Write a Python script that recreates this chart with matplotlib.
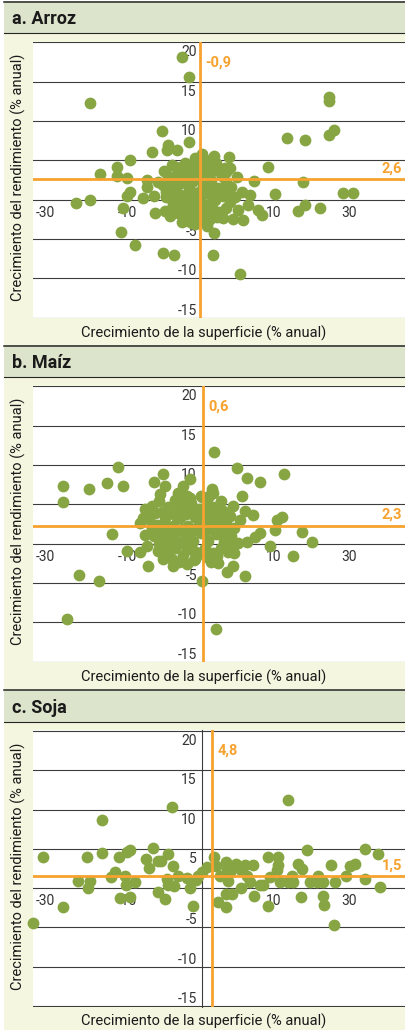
"""Crecimiento del rendimiento vs crecimiento de la superficie: arroz, maíz, soja."""

import numpy as np

import matplotlib

matplotlib.use("Agg")
import matplotlib.pyplot as plt  # noqa: E402
from matplotlib.lines import Line2D  # noqa: E402
from matplotlib.patches import Rectangle  # noqa: E402
from matplotlib.transforms import ScaledTranslation  # noqa: E402

# ---- data ----------------------------------------------------------------
TITLES = ["a. Arroz", "b. Maíz", "c. Soja"]
V_VALUES = [-0.9, 0.6, 4.8]          # mean area growth (vertical line)
H_VALUES = [2.6, 2.3, 1.5]           # mean yield growth (horizontal line)
V_LABELS = ["-0,9", "0,6", "4,8"]
H_LABELS = ["2,6", "2,3", "1,5"]

YTICKS = [-15, -10, -5, 0, 5, 10, 15, 20]
YTICK_LABELS = ["-15", "-10", "-5", "", "5", "10", "15", "20"]
# the original's x labels are not evenly spaced; keep them where they sit
XTICK_POS = [-70.2, -33.4, 32.4, 66.4]
XTICK_LABELS = ["-30", "-10", "10", "30"]

RICE_X = [
    -9.0, -5.5, -50.2, 57.3, 57.3, 59.5, 57.3, 38.2, 46.6, -18.0, -5.5, -15.3,
    -11.2, -15.4, -22.3, 0.0, 5.5, 12.4, -32.1, -37.9, -45.7, -37.9, -33.7,
    -24.7, -19.8, 30.0, 45.4, 63.7, 67.9, 33.0, -56.5, -50.2, -32.2, -33.7,
    -24.7, -21.4, -26.5, -35.5, -21.0, -16.5, -14.2, -9.0, -3.4, 2.2, 5.5,
    -36.3, -30.0, -17.2, -12.4, 4.9, 17.2, 13.9, 18.7, 16.5, 21.0, 25.2, 27.3,
    21.7, 18.0, 23.7, 15.9, 10.5, 12.7, 3.7, 43.5, 46.6, 53.2,
    -16.8, -13.5, -10.2, -7.4, -4.1, -1.2, 2.6, 6.3, 9.1,
    -17.5, -14.6, -11.8, -8.3, -5.6, -2.4, 0.8, 4.1, 7.2, 10.8, 13.4,
    -15.9, -12.9, -9.6, -6.9, -3.8, -0.6, 2.9, 5.8, 9.4, 12.6, 14.8,
    -14.1, -10.8, -7.5, -4.6, -1.7, 1.5, 4.7, 7.9, 10.9,
    -6.2, -2.8, 0.6, 3.6, 7.0,
    -11.5, -3.2, 1.8, -8.8, 4.9, -6.0, -1.0, 3.2, -4.8, 0.2, 6.6, -9.0, -12.3,
    -15.2, -12.0, -8.7, -5.3, -2.6, 0.5, 3.8, 7.7, 11.0,
    -16.2, -13.2, -10.4, -7.0, -4.2, -1.2, 1.9, 5.2, 8.5, 11.6,
    -12.0, -8.9, -5.9, -3.0, 0.1, 3.2, 6.2, 9.6, -8.0, -1.0, 2.3, -4.3,
]
RICE_Y = [
    18.2, 15.6, 12.3, 13.0, 12.6, 8.9, 8.2, 7.8, 7.6, 8.7, 7.3, 7.0,
    6.3, 6.3, 6.1, 5.8, 5.6, 5.4, 5.0, 4.2, 3.3, 3.0, 2.8,
    2.5, 2.3, 4.2, 2.3, 0.9, 0.9, 0.7, -0.4, 0.0, 1.0, 0.5,
    1.6, 0.5, 0.2, -1.1, -1.7, -1.4, -2.1, -2.8, -2.6, -3.3, -4.3,
    -4.1, -5.8, -6.8, -7.1, -7.1, -9.4, -2.5, -2.6, -1.3, -0.7, -1.3, -1.9,
    0.6, 1.0, 2.4, 2.9, 4.0, 4.0, 4.2, -1.5, -0.7, -1.0,
    3.6, 4.4, 3.1, 4.7, 3.8, 4.9, 3.4, 4.6, 3.0,
    1.9, 2.6, 1.2, 2.2, 1.4, 2.8, 1.9, 2.5, 1.5, 2.2, 1.6,
    0.3, -0.4, 0.6, -0.2, 0.9, 0.1, 0.8, -0.1, 0.5, -0.3, 0.4,
    -1.3, -1.7, -1.1, -1.9, -1.2, -1.8, -1.0, -1.6, -1.1,
    -2.7, -3.1, -2.6, -2.4, -2.2,
    4.1, 5.3, 5.0, 3.5, 3.8, 3.0, 3.4, 1.2, -0.5, -0.7, 0.7, -0.9, 0.9,
    3.0, 2.9, 4.2, 4.1, 4.2, 3.9, 4.6, 3.6, 3.5,
    1.0, 1.8, 2.0, 0.6, 2.2, 1.0, 2.8, 1.6, 1.2, 1.0,
    -1.0, -0.3, -1.5, -0.4, -1.5, -0.5, -1.9, -2.3, -2.4, -2.3, -3.0, -3.0,
]

MAIZE_X = [
    5.5, -37.5, 15.7, 37.0, -17.5, 20.5, 26.2, -62.2, -50.5, -42.4, -35.2,
    -21.3, -16.5, -8.5, -5.2, 4.5, 5.0, 18.1, -0.4, 8.7, 14.2, 19.5, 23.2,
    36.1, 33.7, 33.0, 26.2, 24.0, 20.5, 45.3, 49.8, 30.7, 41.2, -40.5, -27.7,
    -26.2, -25.4, -25.5, -24.7, -33.4, -27.7, -24.0, -17.2, -13.0, -55.0,
    -46.0, -60.7, 0.0, 6.3, 7.5, 11.2, 13.9, 19.5, 14.5, -3.0, 2.2,
    -18.7, -10.5, -8.2, -5.2, -62.2,
    -22.5, -19.0, -15.2, -11.8, -8.1, -4.6, -1.3, 2.4, 6.1, 9.8, 12.9,
    -23.8, -20.2, -16.6, -13.1, -9.7, -6.3, -2.8, 0.9, 4.3, 7.7, 11.1, 14.6, 17.3,
    -21.3, -17.7, -14.3, -10.9, -7.4, -4.0, -0.5, 3.0, 6.5, 9.9, 13.2, 16.2,
    -19.5, -15.8, -12.2, -8.6, -5.3, -1.9, 1.6, 5.1, 8.6, 11.8,
    -10.1, -6.7, -3.5, 4.2,
    -18.0, -6.5, 0.3, 3.5, -2.0, -12.5, 8.3, -9.0,
    -21.0, -17.3, -14.0, -10.5, -7.0, -3.5, 0.0, 3.6, 7.2, 10.5,
    -22.5, -19.0, -15.5, -12.0, -8.2, -4.8, -1.3, 2.1, 5.6, 9.0, 12.5,
    -16.8, -13.5, -7.0, -3.5, 0.1, 3.4, 7.0, -14.0, -11.2,
]
MAIZE_Y = [
    11.6, 9.8, 9.6, 8.9, 8.8, 8.3, 7.9, 7.3, 7.0, 7.7, 7.3,
    7.8, 7.3, 7.3, 8.2, 6.9, 6.5, 6.1, 6.1, 5.4, 4.8, 4.2, 3.6,
    3.4, 3.0, 1.8, 1.4, 0.8, 0.2, 1.5, 0.2, -0.3, -1.6, 1.2, 2.6,
    3.3, 4.4, 1.1, -0.3, -0.9, -1.1, -2.8, -1.9, -2.8, -4.0,
    -4.8, -9.6, -4.8, -10.9, -2.4, -3.6, -2.8, -4.1, -1.2, -1.9, -1.7,
    6.3, 6.5, 6.1, 5.8, 5.3,
    4.8, 5.4, 4.6, 5.5, 4.9, 5.2, 4.4, 5.3, 4.7, 4.1, 3.5,
    3.1, 2.4, 3.3, 2.2, 3.2, 2.3, 3.4, 2.6, 3.5, 2.2, 2.9, 2.0, 3.0,
    1.0, 0.3, 1.2, 0.2, 1.1, 0.4, 1.3, 0.3, 1.2, 0.4, 1.0, 0.1,
    -0.9, -1.3, -0.6, -1.4, -0.7, -1.5, -0.6, -1.2, -0.5, -1.0,
    -2.3, -2.6, -2.1, -2.3,
    4.0, 6.0, 5.9, 6.1, 1.8, 3.8, 3.1, 1.9,
    3.9, 1.6, 4.0, 4.3, 3.8, 4.2, 3.7, 4.4, 3.9, 2.0,
    2.0, -0.1, 2.1, 1.5, 0.2, 1.6, 2.4, 1.6, 2.4, 1.6, -0.2,
    -0.6, -1.9, -0.3, -0.9, -1.0, -1.5, -1.6, -0.1, 3.2,
]

SOY_X = [
    -76.0, -71.5, -62.2, -55.5, -51.7, -50.9, -50.2, -44.8, -45.0, -40.8,
    -39.0, -37.0, -33.7, -32.2, -36.7, -32.2, -34.5, -34.2, -30.0, -25.2,
    -23.6, -22.0, -19.8, -18.3, -19.5, -16.5, -15.7, -15.0, -12.4, -15.0,
    -12.7, -13.2, -10.5, -6.7, -5.2, -3.7, -2.7, -1.5, 0.0, 2.2, 5.5, 6.3,
    7.2, 8.2, 10.9, 11.2, 10.8, 13.5, 10.9, 12.0, 15.3, 12.7, 17.7, 17.5,
    20.2, 22.9, 21.7, 23.7, 26.2, 27.7, 29.7, 30.0, 30.7, 34.5, 34.5, 33.7,
    35.2, 39.0, 41.2, 39.0, 40.5, 43.5, 45.0, 44.7, 47.2, 48.7, 51.7, 52.5,
    54.7, 54.5, 55.1, 58.2, 59.7, 60.0, 64.9, 66.7, 69.0, 73.5, 73.5, 79.5,
    80.2, 19.5,
]
SOY_Y = [
    -4.4, 4.0, -2.4, 0.9, 4.0, 0.0, 0.9, 8.7, 4.5, 1.4,
    2.0, 4.0, 4.6, 4.8, -1.2, -1.1, 1.6, 0.4, 0.8, 3.7,
    2.6, 5.1, 3.5, 3.5, -0.5, -1.4, 1.2, 0.4, 0.3, 4.3,
    2.8, 10.3, 1.6, 1.3, 0.0, -2.3, 1.0, 1.6, 2.1, 2.7, 4.0, 2.8,
    -1.7, 1.6, 3.3, 2.5, -0.8, -0.7, -2.4, 0.9, 3.1, 2.1, 2.3, 0.0,
    1.6, 3.0, 0.8, -1.0, 0.4, 0.4, 4.0, -2.3, 1.4, 4.0, 2.9, 2.3,
    0.8, 0.8, 0.8, 11.2, 1.6, 3.1, 2.4, -1.1, 4.9, 0.8, 0.8, 1.6,
    0.8, -1.0, -2.2, 3.0, -4.7, 0.8, 1.6, 2.8, 3.1, 1.2, 5.0, 4.4,
    0.1, 2.9,
]

PANELS_X = [RICE_X, MAIZE_X, SOY_X]
PANELS_Y = [RICE_Y, MAIZE_Y, SOY_Y]

# ---- style / layout (pixels of the 406x1030 target) -----------------------
W, H = 406, 1030
PANEL_TOPS = [1.5, 345.5, 690.0]
XLIM = (-75.7, 91.9)
YLIM = (-15.1, 20.1)

GREEN = "#87a543"
ORANGE = "#f7a22e"
HEADER_BG = "#dde4cc"
PANEL_BG = "#f4f6df"
GRID = "#3c3c3c"
TEXT = "#333333"

plt.rcParams["font.family"] = ["Liberation Sans Narrow", "Roboto", "DejaVu Sans"]


def fx(px):
    return px / W


def fy(py):
    return 1.0 - py / H


def hline_px(fig, y, lw):
    fig.add_artist(Line2D([fx(4), fx(W)], [fy(y), fy(y)], color="#262626",
                          lw=lw, transform=fig.transFigure))


def draw_panel(fig, i):
    top = PANEL_TOPS[i]
    bottom = min(top + 344, H)

    fig.add_artist(Rectangle((fx(4), fy(bottom)), fx(W) - fx(4), (bottom - top) / H,
                             transform=fig.transFigure, color=PANEL_BG, lw=0, zorder=0))
    fig.add_artist(Rectangle((fx(4), fy(top + 31.5)), fx(W) - fx(4), 31.5 / H,
                             transform=fig.transFigure, color=HEADER_BG, lw=0, zorder=0))
    hline_px(fig, top, 1.1)
    hline_px(fig, top + 31.5, 0.8)
    fig.text(fx(12), fy(top + 18), TITLES[i], fontsize=13, fontweight="bold",
             color="#1a1a1a", ha="left", va="center")

    ax = fig.add_axes([fx(33.3), fy(top + 316.8), 1.0 - fx(33.3), (316.8 - 40.2) / H])
    ax.set_facecolor("white")
    ax.set_xlim(*XLIM)
    ax.set_ylim(*YLIM)

    for side in ("top", "right"):
        ax.spines[side].set_visible(False)
    ax.spines["left"].set_position(("data", 0))
    ax.spines["left"].set_color(GRID)
    ax.spines["left"].set_linewidth(0.8)
    # where the mean line sits on the axis it hides it completely
    if abs(V_VALUES[i]) < 1.5:
        ax.spines["left"].set_color("none")
    ax.spines["bottom"].set_position(("data", 0))
    ax.spines["bottom"].set_color("none")

    ax.set_yticks(YTICKS)
    ax.set_yticklabels(YTICK_LABELS)
    ax.set_xticks(XTICK_POS)
    ax.set_xticklabels(XTICK_LABELS)
    ax.tick_params(axis="both", length=0, labelsize=10, labelcolor=TEXT)
    ax.tick_params(axis="y", pad=3.5)
    ax.tick_params(axis="x", pad=4.5)
    ax.yaxis.grid(True, color=GRID, lw=0.8)
    ax.set_axisbelow(True)
    # positive labels sit under their gridline, negative ones above it
    for lab, v in zip(ax.get_yticklabels(), YTICKS):
        dy = -10 if v > 0 else 7
        lab.set_verticalalignment("center")
        lab.set_transform(lab.get_transform()
                          + ScaledTranslation(0, dy / 100, fig.dpi_scale_trans))

    ax.scatter(PANELS_X[i], PANELS_Y[i], s=72, color=GREEN, lw=0, zorder=3,
               clip_on=False)
    ax.axvline(V_VALUES[i], color=ORANGE, lw=2.0, zorder=4)
    ax.axhline(H_VALUES[i], color=ORANGE, lw=2.0, zorder=4)
    ax.annotate(V_LABELS[i], (V_VALUES[i], 17.5), xytext=(4, 0),
                textcoords="offset points", color=ORANGE, fontsize=10.5,
                fontweight="bold", ha="left", va="center")
    ax.annotate(H_LABELS[i], (1.0, H_VALUES[i]), xycoords=("axes fraction", "data"),
                xytext=(-3, 8), textcoords="offset points", color=ORANGE,
                fontsize=10.5, fontweight="bold", ha="right", va="center")

    fig.text(fx(18), fy(top + 176), "Crecimiento del rendimiento (% anual)",
             rotation=90, fontsize=10.5, color="#1a1a1a", ha="center", va="center")
    fig.text(fx(204), fy(top + 331.8), "Crecimiento de la superficie (% anual)",
             fontsize=10.5, color="#1a1a1a", ha="center", va="center")


fig = plt.figure(figsize=(W / 100, H / 100), dpi=100)
fig.patch.set_facecolor("white")
for k in range(3):
    draw_panel(fig, k)

fig.savefig("out.png", dpi=100)
plt.close(fig)
